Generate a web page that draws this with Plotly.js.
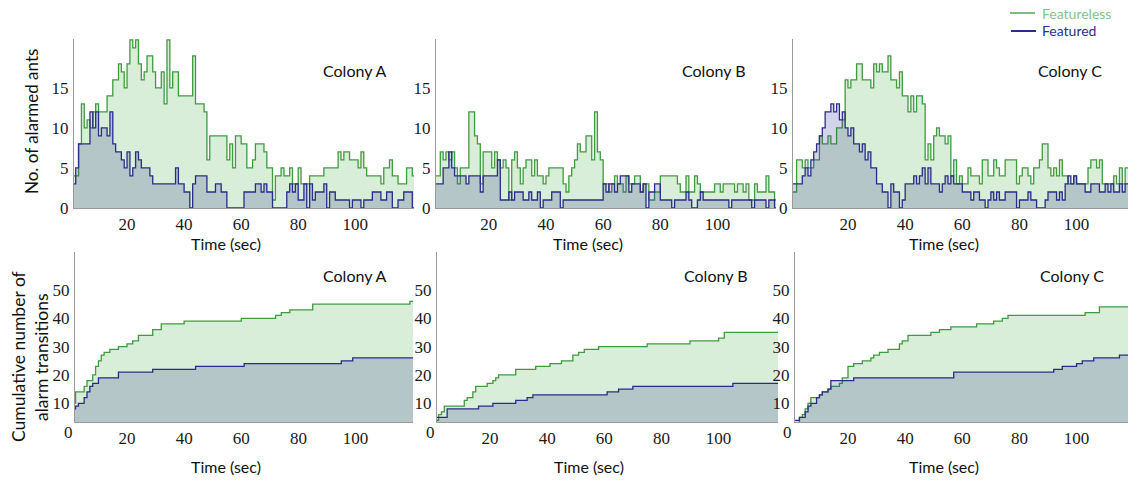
<!DOCTYPE html>
<html>
<head>
<meta charset="utf-8">
<script src="https://cdn.plot.ly/plotly-3.0.1.min.js"></script>
<style>
  html, body { margin: 0; padding: 0; background: #ffffff; }
  #chart { width: 1128px; height: 480px; }
</style>
</head>
<body>
<div id="chart"></div>
<script>
// ---------- Alarmed ants per second (step series: change times and values) ----------
// Colony A
const alarmA_featureless_t = [1,3,4,5,6,7,8,9,10,13,15,17,18,19,20,21,22,23,24,25,26,27,29,30,32,33,34,35,36,38,43,44,47,48,49,55,56,57,58,60,62,64,65,68,69,71,72,74,75,77,78,80,81,84,89,94,95,96,98,101,102,103,104,109,110,112,113,115,118,120,121];
const alarmA_featureless_v = [4,8,13,10,11,10,12,13,12,14,16,18,17,15,18,21,20,21,18,16,17,19,17,15,17,13,21,15,17,14,19,13,12,6,9,6,8,5,9,8,5,6,8,7,5,1,4,5,4,5,3,5,3,4,5,7,6,7,6,5,7,5,4,3,5,6,4,3,5,4,4];
const alarmA_featured_t = [1,2,3,7,8,9,10,11,13,14,15,16,18,19,20,21,22,23,24,25,28,29,37,38,40,42,43,44,48,51,53,55,61,65,67,68,69,71,76,77,78,79,80,82,83,84,85,86,89,90,91,93,98,99,102,103,106,109,111,113,115,117,120,121];
const alarmA_featured_v = [3,5,8,12,10,12,9,10,9,12,8,7,6,5,7,4,5,7,6,5,4,3,5,3,2,0,3,4,2,3,2,0,2,3,2,3,2,0,2,3,2,3,1,3,0,3,1,2,3,0,2,1,0,1,0,1,2,1,2,0,1,2,0,0];

// Colony B
const alarmB_featureless_t = [1.5,3,4,5,6,7,8,9,10,13,15,16,17,18,21,22,23,24,25,26,27,28,29,30,31,32,33,35,36,37,39,40,41,46,47,48,49,50,51,52,54,56,57,58,59,60,62,63,64,65,67,68,69,71,73,74,76,78,80,86,87,89,90,92,93,94,99,101,102,106,107,109,110,111,113,114,117,118,120,120.5];
const alarmB_featureless_v = [4,7,6,7,6,7,5,3,5,12,9,8,3,7,5,7,6,5,6,5,1,6,7,5,3,5,6,4,6,4,3,4,5,3,2,4,5,6,8,7,9,6,12,7,6,3,2,3,4,3,2,4,3,4,2,3,1,2,4,3,2,4,2,4,3,2,3,2,3,2,3,2,3,1,3,2,4,2,1,1];
const alarmB_featured_t = [1.5,4,6,7,8,12,13,17,18,23,24,27,28,29,32,34,35,37,38,39,42,45,46,60,61,62,64,65,66,69,70,73,74,75,76,78,80,84,85,89,90,91,93,94,95,104,105,112,113,117,118,120,120.5];
const alarmB_featured_v = [3,5,7,5,4,3,4,2,4,6,1,2,1,2,1,2,1,2,0,1,2,0,1,3,2,3,2,3,4,2,3,2,3,0,2,3,1,0,1,2,1,0,1,2,1,0,1,0,1,0,1,0,0];

// Colony C
const alarmC_featureless_t = [0.75,2,4,5,6,8,10,11,13,14,16,18,19,20,21,23,25,28,29,30,31,32,34,35,37,38,39,41,42,43,44,46,47,48,49,50,51,52,54,55,56,57,58,59,60,62,63,66,67,69,71,72,73,75,79,80,81,83,84,85,87,88,90,91,92,93,94,95,97,99,100,104,105,107,108,109,113,114,115,116,117,118];
const alarmC_featureless_v = [2,6,5,6,5,6,9,8,9,8,10,11,16,15,16,18,16,15,18,17,18,17,19,16,15,17,14,12,14,12,14,13,6,8,6,9,10,9,8,9,4,6,3,4,3,5,4,3,6,4,6,5,4,6,3,4,5,4,3,5,6,8,5,4,5,4,6,4,3,4,3,5,6,5,6,3,4,3,5,3,5,5];
const alarmC_featured_t = [0.75,4,5,6,7,8,9,10,11,12,14,15,16,17,18,19,20,21,22,24,25,26,27,28,30,32,34,35,36,38,39,40,43,44,45,46,47,48,49,52,53,54,55,56,57,60,63,64,66,68,69,70,71,72,73,75,79,80,83,84,86,89,90,93,94,95,96,97,98,99,100,103,105,108,110,111,112,113,115,116,117,118];
const alarmC_featured_v = [3,4,5,4,6,7,8,9,10,12,13,12,13,11,12,10,9,10,8,7,8,6,7,5,3,2,0,3,2,0,1,3,4,3,4,5,3,5,3,2,3,4,3,4,3,2,1,2,1,0,1,2,1,2,1,2,0,1,2,1,0,1,2,1,2,1,3,4,3,4,3,2,3,2,3,2,3,2,3,2,3,3];

// ---------- Cumulative number of alarm transitions ----------
const cumA_featureless_t = [1.8,2,5,6,8,9,10,11,12,14,17,20,22,24,29,32,40,60,72,74,77,85,119,120.1];
const cumA_featureless_v = [10,14,16,18,20,23,25,27,28,29,30,31,32,34,36,38,39,40,41,42,43,45,46,46];
const cumA_featured_t = [1.8,2,3,5,6,7,8,10,17,29,44,61,95,99,120.1];
const cumA_featured_v = [8,9,10,12,14,16,17,19,21,22,23,24,25,26,26];

const cumB_featureless_t = [1.45,2,3,4,11,12,14,15,19,21,22,23,29,36,41,45,49,51,53,58,75,90,100,102,120.8];
const cumB_featureless_v = [4,6,7,9,11,12,14,16,17,18,19,20,22,23,24,25,27,28,29,30,31,32,33,35,35];
const cumB_featured_t = [1.45,5,16,21,29,33,35,61,65,70,105,120.8];
const cumB_featured_v = [5,8,9,10,11,12,13,14,15,16,17,17];

const cumC_featureless_t = [1.45,3,4,5,6,7,10,11,13,14,17,18,20,22,25,28,29,31,34,38,39,41,49,52,56,65,71,74,76,103,108,118];
const cumC_featureless_v = [3,5,6,8,10,12,13,14,15,16,17,19,23,24,25,26,27,28,29,31,32,34,35,36,37,38,39,40,41,42,44,44];
const cumC_featured_t = [1.45,3,5,6,7,9,10,11,13,14,22,57,92,95,100,102,106,115,118];
const cumC_featured_v = [4,5,7,9,10,12,13,14,15,18,19,21,22,23,24,25,26,27,27];

// ---------- Labels ----------
const colonyNames = ['Colony A', 'Colony B', 'Colony C'];
const seriesNames = ['Featureless', 'Featured'];
const xTicks = [20, 40, 60, 80, 100];
const topYTicks = [0, 5, 10, 15];
const bottomYTicks = [10, 20, 30, 40, 50];
const xTitle = 'Time (sec)';
const topYTitle = 'No. of alarmed ants';
const bottomYTitle = ['Cumulative number of', 'alarm transitions'];

// ---------- Styling ----------
const W = 1128, H = 480;
const GREEN = '#3f9b3f', GREEN_FILL = 'rgba(60,170,60,0.2)';
const BLUE = '#2b2b8c', BLUE_FILL = 'rgba(40,40,140,0.2)';
const AXIS = '#9a9a9a';
const SERIF = 'Liberation Serif';
const SANS = 'Lato';

const px = x => x / W;
const py = y => 1 - y / H;

// panel frames in pixels: [left, right] and x-range start/end
const panels = [
  {x0: 74,  x1: 414,  r: [1.4, 120.6], row: 0},
  {x0: 436, x1: 776,  r: [1.5, 120.5], row: 0},
  {x0: 793, x1: 1128, r: [0.75, 118],  row: 0},
  {x0: 75,  x1: 413,  r: [1.8, 120.1], row: 1},
  {x0: 437, x1: 778,  r: [1.45, 120.8], row: 1},
  {x0: 795, x1: 1128, r: [1.45, 118],  row: 1}
];
const rows = [
  {top: 39,  bottom: 208, range: [0, 21.1],  ticks: topYTicks},
  {top: 252, bottom: 422, range: [3.4, 63.4], ticks: bottomYTicks}
];

const seriesData = [
  [alarmA_featureless_t, alarmA_featureless_v, alarmA_featured_t, alarmA_featured_v],
  [alarmB_featureless_t, alarmB_featureless_v, alarmB_featured_t, alarmB_featured_v],
  [alarmC_featureless_t, alarmC_featureless_v, alarmC_featured_t, alarmC_featured_v],
  [cumA_featureless_t, cumA_featureless_v, cumA_featured_t, cumA_featured_v],
  [cumB_featureless_t, cumB_featureless_v, cumB_featured_t, cumB_featured_v],
  [cumC_featureless_t, cumC_featureless_v, cumC_featured_t, cumC_featured_v]
];

const traces = [];
const layout = {
  width: W, height: H,
  margin: {l: 0, r: 0, t: 0, b: 0},
  paper_bgcolor: '#ffffff', plot_bgcolor: 'rgba(0,0,0,0)',
  showlegend: false,
  annotations: [], shapes: []
};

panels.forEach((p, i) => {
  const n = i + 1;
  const xa = 'x' + (n === 1 ? '' : n), ya = 'y' + (n === 1 ? '' : n);
  const row = rows[p.row];
  const [gt, gv, bt, bv] = seriesData[i];
  traces.push({
    x: gt, y: gv, xaxis: xa, yaxis: ya, type: 'scatter', mode: 'lines', name: seriesNames[0],
    line: {shape: 'hv', color: GREEN, width: 1.3}, fill: 'tozeroy', fillcolor: GREEN_FILL, hoverinfo: 'skip'
  });
  traces.push({
    x: bt, y: bv, xaxis: xa, yaxis: ya, type: 'scatter', mode: 'lines', name: seriesNames[1],
    line: {shape: 'hv', color: BLUE, width: 1.3}, fill: 'tozeroy', fillcolor: BLUE_FILL, hoverinfo: 'skip'
  });
  const axisBase = {
    showgrid: false, zeroline: false, showline: true, linecolor: AXIS, linewidth: 1.2,
    ticks: '', tickfont: {family: SERIF, size: 17, color: '#1a1a1a'}, fixedrange: true
  };
  layout['xaxis' + (n === 1 ? '' : n)] = Object.assign({}, axisBase, {
    domain: [px(p.x0), px(p.x1)], range: p.r, anchor: ya,
    tickmode: 'array', tickvals: xTicks, ticklabelstandoff: 0
  });
  layout['yaxis' + (n === 1 ? '' : n)] = Object.assign({}, axisBase, {
    domain: [py(row.bottom), py(row.top)], range: row.range, anchor: xa,
    tickmode: 'array', tickvals: row.ticks, ticklabelstandoff: 1
  });
});

const ann = (x, y, text, opts) => Object.assign({
  x: px(x), y: py(y), xref: 'paper', yref: 'paper', text: text, showarrow: false,
  xanchor: 'center', yanchor: 'middle', font: {family: SANS, size: 16, color: '#111111'}
}, opts || {});

// colony names
[[355, 70], [713, 70], [1070, 70]].forEach((c, i) => layout.annotations.push(ann(c[0], c[1], colonyNames[i])));
[[355, 275], [715, 275], [1072, 275]].forEach((c, i) => layout.annotations.push(ann(c[0], c[1], colonyNames[i])));

// x-axis titles
[226, 588, 944].forEach(x => layout.annotations.push(ann(x, 243, xTitle)));
[226, 589, 944].forEach(x => layout.annotations.push(ann(x, 466, xTitle)));

// zero labels of the cumulative panels sit below the shifted x-axis
[68, 430, 787].forEach(x => layout.annotations.push(ann(x, 432, '0', {font: {family: SERIF, size: 17, color: '#1a1a1a'}})));

// y-axis titles
layout.annotations.push(ann(31, 122, topYTitle, {textangle: -90, font: {family: SANS, size: 17, color: '#111111'}}));
layout.annotations.push(ann(18, 357, bottomYTitle[0], {textangle: -90, font: {family: SANS, size: 17.5, color: '#111111'}}));
layout.annotations.push(ann(41, 357, bottomYTitle[1], {textangle: -90, font: {family: SANS, size: 17.5, color: '#111111'}}));

// key
layout.shapes.push({type: 'line', xref: 'paper', yref: 'paper', x0: px(1010), x1: px(1035), y0: py(13), y1: py(13), line: {color: '#7cbd7c', width: 2}});
layout.shapes.push({type: 'line', xref: 'paper', yref: 'paper', x0: px(1011), x1: px(1036), y0: py(31), y1: py(31), line: {color: '#2e2e8a', width: 2}});
layout.annotations.push(ann(1040, 13, seriesNames[0], {xanchor: 'left', font: {family: SANS, size: 14, color: '#86c386'}}));
layout.annotations.push(ann(1040, 31, seriesNames[1], {xanchor: 'left', font: {family: SANS, size: 14, color: '#2e2e8a'}}));

Plotly.newPlot('chart', traces, layout, {staticPlot: true, displayModeBar: false});
</script>
</body>
</html>
